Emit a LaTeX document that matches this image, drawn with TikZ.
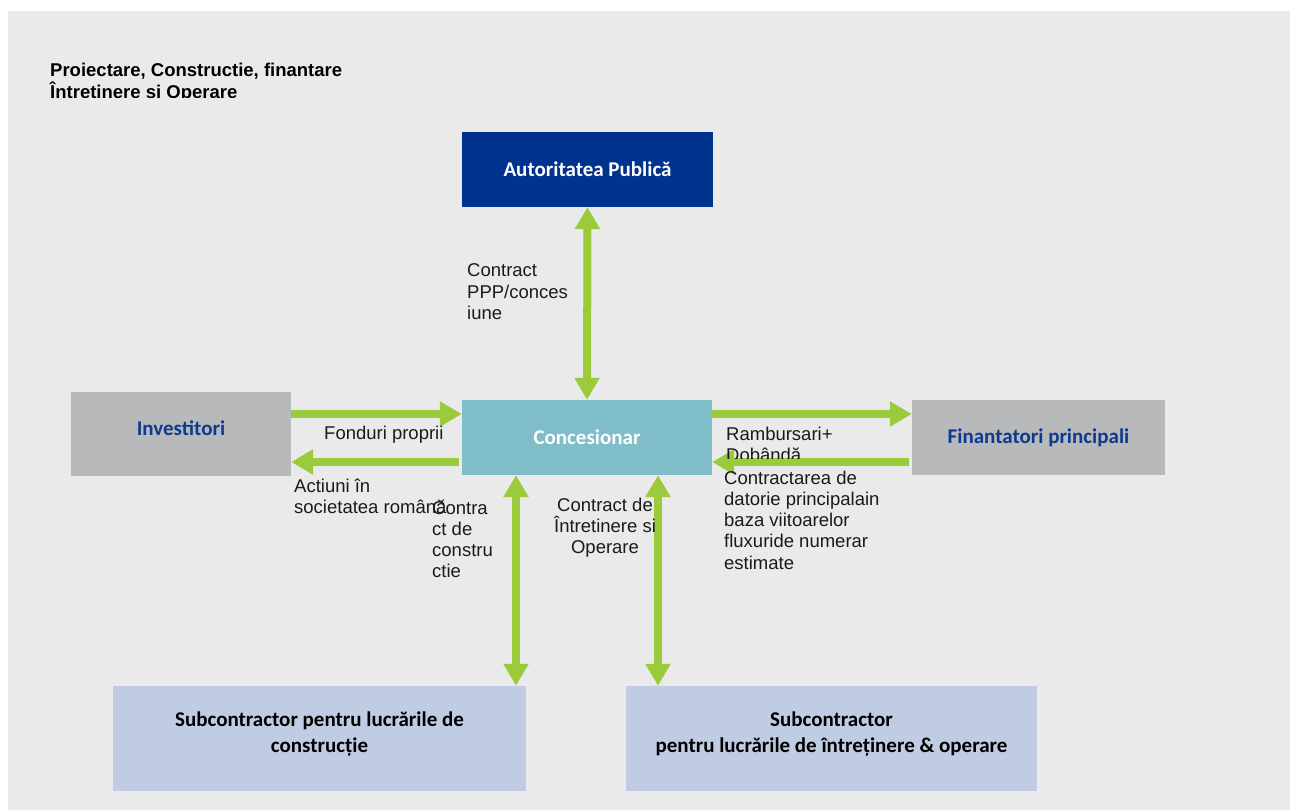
\documentclass[tikz,border=0pt]{standalone}
\usepackage{fontspec}
\setmainfont{Liberation Sans}
\newfontfamily\boxfont{Carlito}
\usetikzlibrary{arrows.meta}
\definecolor{bgc}{HTML}{EAEAEA}
\definecolor{authblue}{HTML}{00338E}
\definecolor{concteal}{HTML}{7FBDC9}
\definecolor{boxgray}{HTML}{B8B9BB}
\definecolor{subblue}{HTML}{BFCCE4}
\definecolor{agreen}{HTML}{9BCB3B}
\definecolor{navytext}{HTML}{0D3A8E}
\definecolor{lbltext}{HTML}{1A1A1A}
\begin{document}
\begin{tikzpicture}[x=1pt,y=-1pt,
  boxtxt/.style={font=\boxfont\bfseries\fontsize{21}{26}\selectfont, align=center, inner sep=0},
  lbl/.style={font=\fontsize{18.5}{21.3}\selectfont, text=lbltext, inner sep=0, align=left, anchor=base west},
  garrow/.style={draw=agreen, line width=8pt, -{Triangle[width=24pt,length=22pt]}},
  gdouble/.style={draw=agreen, line width=8pt, {Triangle[width=24pt,length=22pt]}-{Triangle[width=24pt,length=22pt]}},
  shape box/.style={inner sep=0, draw=none}
]
\useasboundingbox (0,0) rectangle (1293,810);
\fill[bgc] (8,11) rectangle (1290,810);

% title (anchor base = baseline of the last line)
\begin{scope}
\clip (40,50) rectangle (420,98);
\node[lbl, font=\bfseries\fontsize{18.5}{22}\selectfont, text=black] (title) at (50,99) {Proiectare, Constructie, finantare\\Întretinere si Operare};
\end{scope}

% boxes
\node[shape box, fill=authblue, minimum width=251pt, minimum height=75pt, boxtxt, text=white] (auth) at (587.5,169.5) {Autoritatea Publică};
\node[shape box, fill=concteal, minimum width=250pt, minimum height=75pt, boxtxt, text=white] (conc) at (587,437.5) {Concesionar};
\node[shape box, fill=boxgray, minimum width=220pt, minimum height=84pt] (inv) at (181,434) {};
\node[boxtxt, text=navytext] (invt) at (181,428) {Investitori};
\node[shape box, fill=boxgray, minimum width=253pt, minimum height=75pt, boxtxt, text=navytext] (fin) at (1038.5,437.5) {Finantatori principali};
\node[shape box, fill=subblue, minimum width=413pt, minimum height=105pt] (sub1) at (319.5,738.5) {};
\node[boxtxt, text=black] (sub1t) at (319.5,734.5) {Subcontractor pentru lucrările de\\construcție};
\node[shape box, fill=subblue, minimum width=411pt, minimum height=105pt] (sub2) at (831.5,738.5) {};
\node[boxtxt, text=black] (sub2t) at (831.5,734.5) {Subcontractor\\pentru lucrările de întreținere \& operare};

% connectors
\draw[gdouble] (auth.south) -- (conc.north);
\draw[garrow] (inv.east |- 0,414) -- (conc.west |- 0,414);
\draw[garrow, shorten <=3pt] (conc.west |- 0,462) -- (inv.east |- 0,462);
\draw[garrow] (conc.east |- 0,414) -- (fin.west |- 0,414);
\draw[garrow, shorten <=3pt] (fin.west |- 0,462) -- (conc.east |- 0,462);
\draw[gdouble] (conc.south -| 516,0) -- (sub1.north -| 516,0);
\draw[gdouble] (conc.south -| 658,0) -- (sub2.north -| 658,0);

% labels (anchor base = baseline of the last line)
\node[lbl] (lppp) at (467,319.6) {Contract\\PPP/conces\\iune};
\node[lbl] (lfond) at (324,439) {Fonduri proprii};
\node[lbl] (lact) at (294,513.3) {Actiuni în\\societatea română};
\node[lbl] (lcc) at (432,577.9) {Contra\\ct de\\constru\\ctie};
\node[lbl, anchor=base, align=center] (lio) at (605,553.6) {Contract de\\Întretinere si\\Operare};
\begin{scope}
\clip (700,415) rectangle (900,458);
\node[lbl] (lramb) at (726,461.3) {Rambursari+\\Dobândă};
\end{scope}
\node[lbl] (ldat) at (724,569.2) {Contractarea de\\datorie principalain\\baza viitoarelor\\fluxuride numerar\\estimate};
\end{tikzpicture}
\end{document}
